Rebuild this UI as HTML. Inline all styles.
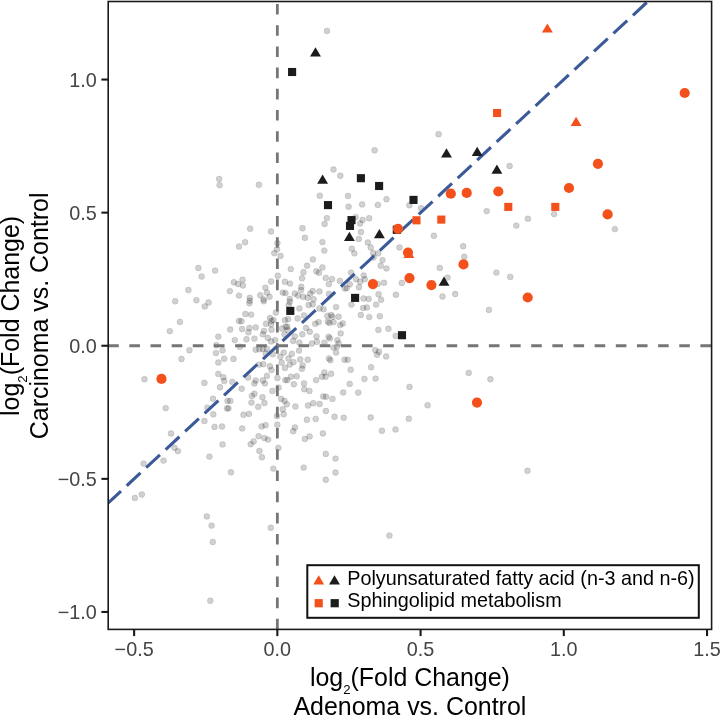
<!DOCTYPE html><html><head><meta charset="utf-8"><title>Fold change scatter</title><style>html,body{margin:0;padding:0;background:#fff}svg{display:block;will-change:transform}text{font-family:"Liberation Sans",sans-serif}</style></head><body>
<svg width="720" height="718" viewBox="0 0 720 718">
<rect width="720" height="718" fill="#fff"/>
<defs><clipPath id="cp"><rect x="108.2" y="1.5" width="603.4" height="627.9"/></clipPath></defs>
<g clip-path="url(#cp)">
<g fill="#000" fill-opacity="0.18" stroke="#000" stroke-opacity="0.12" stroke-width="0.9">
<circle cx="327.0" cy="30.9" r="2.95"/>
<circle cx="219.1" cy="178.9" r="2.95"/>
<circle cx="219.6" cy="185.1" r="2.95"/>
<circle cx="198.4" cy="268.0" r="2.95"/>
<circle cx="215.1" cy="270.6" r="2.95"/>
<circle cx="201.6" cy="276.5" r="2.95"/>
<circle cx="333.5" cy="169.5" r="2.95"/>
<circle cx="340.3" cy="175.7" r="2.95"/>
<circle cx="258.9" cy="184.8" r="2.95"/>
<circle cx="319.8" cy="195.7" r="2.95"/>
<circle cx="326.9" cy="218.1" r="2.95"/>
<circle cx="324.6" cy="224.0" r="2.95"/>
<circle cx="302.5" cy="228.3" r="2.95"/>
<circle cx="250.1" cy="228.8" r="2.95"/>
<circle cx="271.0" cy="231.5" r="2.95"/>
<circle cx="304.9" cy="237.8" r="2.95"/>
<circle cx="438.6" cy="134.2" r="2.95"/>
<circle cx="374.6" cy="150.3" r="2.95"/>
<circle cx="409.4" cy="205.2" r="2.95"/>
<circle cx="421.1" cy="208.1" r="2.95"/>
<circle cx="433.9" cy="235.7" r="2.95"/>
<circle cx="348.0" cy="195.9" r="2.95"/>
<circle cx="386.5" cy="199.2" r="2.95"/>
<circle cx="362.1" cy="204.4" r="2.95"/>
<circle cx="377.9" cy="204.9" r="2.95"/>
<circle cx="348.6" cy="206.7" r="2.95"/>
<circle cx="369.2" cy="218.3" r="2.95"/>
<circle cx="362.6" cy="219.9" r="2.95"/>
<circle cx="360.1" cy="223.5" r="2.95"/>
<circle cx="360.9" cy="232.0" r="2.95"/>
<circle cx="358.8" cy="238.9" r="2.95"/>
<circle cx="355.5" cy="217.2" r="2.95"/>
<circle cx="509.6" cy="166.0" r="2.95"/>
<circle cx="486.7" cy="211.1" r="2.95"/>
<circle cx="527.9" cy="218.8" r="2.95"/>
<circle cx="516.3" cy="225.6" r="2.95"/>
<circle cx="554.1" cy="214.1" r="2.95"/>
<circle cx="614.9" cy="229.1" r="2.95"/>
<circle cx="188.4" cy="290.0" r="2.95"/>
<circle cx="175.2" cy="301.3" r="2.95"/>
<circle cx="196.4" cy="300.3" r="2.95"/>
<circle cx="208.6" cy="302.5" r="2.95"/>
<circle cx="204.8" cy="306.4" r="2.95"/>
<circle cx="179.9" cy="321.9" r="2.95"/>
<circle cx="169.8" cy="331.1" r="2.95"/>
<circle cx="218.3" cy="336.6" r="2.95"/>
<circle cx="216.3" cy="345.3" r="2.95"/>
<circle cx="189.4" cy="350.3" r="2.95"/>
<circle cx="222.5" cy="350.3" r="2.95"/>
<circle cx="216.0" cy="353.1" r="2.95"/>
<circle cx="181.5" cy="359.0" r="2.95"/>
<circle cx="224.2" cy="358.7" r="2.95"/>
<circle cx="245.1" cy="242.3" r="2.95"/>
<circle cx="239.0" cy="246.5" r="2.95"/>
<circle cx="277.4" cy="243.2" r="2.95"/>
<circle cx="277.0" cy="249.2" r="2.95"/>
<circle cx="274.3" cy="253.2" r="2.95"/>
<circle cx="280.5" cy="255.9" r="2.95"/>
<circle cx="277.8" cy="275.7" r="2.95"/>
<circle cx="242.5" cy="279.7" r="2.95"/>
<circle cx="233.9" cy="282.2" r="2.95"/>
<circle cx="238.1" cy="284.0" r="2.95"/>
<circle cx="243.0" cy="285.5" r="2.95"/>
<circle cx="271.1" cy="281.5" r="2.95"/>
<circle cx="284.9" cy="281.8" r="2.95"/>
<circle cx="229.8" cy="291.1" r="2.95"/>
<circle cx="265.4" cy="287.6" r="2.95"/>
<circle cx="266.9" cy="292.6" r="2.95"/>
<circle cx="239.0" cy="295.6" r="2.95"/>
<circle cx="260.3" cy="295.3" r="2.95"/>
<circle cx="249.8" cy="297.7" r="2.95"/>
<circle cx="269.5" cy="296.8" r="2.95"/>
<circle cx="282.8" cy="292.6" r="2.95"/>
<circle cx="285.5" cy="293.1" r="2.95"/>
<circle cx="263.6" cy="299.5" r="2.95"/>
<circle cx="322.4" cy="242.1" r="2.95"/>
<circle cx="324.3" cy="250.6" r="2.95"/>
<circle cx="312.9" cy="259.4" r="2.95"/>
<circle cx="307.1" cy="265.7" r="2.95"/>
<circle cx="290.8" cy="269.1" r="2.95"/>
<circle cx="322.4" cy="267.4" r="2.95"/>
<circle cx="316.3" cy="271.3" r="2.95"/>
<circle cx="319.0" cy="272.8" r="2.95"/>
<circle cx="303.5" cy="272.2" r="2.95"/>
<circle cx="302.0" cy="278.3" r="2.95"/>
<circle cx="325.7" cy="277.9" r="2.95"/>
<circle cx="332.0" cy="279.1" r="2.95"/>
<circle cx="339.9" cy="280.9" r="2.95"/>
<circle cx="328.9" cy="284.1" r="2.95"/>
<circle cx="290.0" cy="283.6" r="2.95"/>
<circle cx="301.3" cy="286.8" r="2.95"/>
<circle cx="301.0" cy="290.1" r="2.95"/>
<circle cx="294.8" cy="293.5" r="2.95"/>
<circle cx="298.1" cy="295.6" r="2.95"/>
<circle cx="312.7" cy="291.0" r="2.95"/>
<circle cx="319.4" cy="291.4" r="2.95"/>
<circle cx="303.1" cy="296.8" r="2.95"/>
<circle cx="307.7" cy="297.7" r="2.95"/>
<circle cx="329.0" cy="293.9" r="2.95"/>
<circle cx="344.9" cy="288.5" r="2.95"/>
<circle cx="289.8" cy="298.9" r="2.95"/>
<circle cx="313.6" cy="299.3" r="2.95"/>
<circle cx="310.2" cy="293.5" r="2.95"/>
<circle cx="367.9" cy="242.5" r="2.95"/>
<circle cx="351.8" cy="248.8" r="2.95"/>
<circle cx="354.4" cy="253.4" r="2.95"/>
<circle cx="370.7" cy="247.5" r="2.95"/>
<circle cx="373.2" cy="253.0" r="2.95"/>
<circle cx="378.2" cy="253.4" r="2.95"/>
<circle cx="373.6" cy="257.5" r="2.95"/>
<circle cx="382.5" cy="260.1" r="2.95"/>
<circle cx="399.5" cy="247.4" r="2.95"/>
<circle cx="380.7" cy="265.7" r="2.95"/>
<circle cx="386.5" cy="268.4" r="2.95"/>
<circle cx="351.0" cy="272.6" r="2.95"/>
<circle cx="363.7" cy="275.5" r="2.95"/>
<circle cx="364.8" cy="279.3" r="2.95"/>
<circle cx="356.0" cy="279.3" r="2.95"/>
<circle cx="360.2" cy="281.8" r="2.95"/>
<circle cx="349.8" cy="284.3" r="2.95"/>
<circle cx="346.8" cy="288.1" r="2.95"/>
<circle cx="359.0" cy="287.2" r="2.95"/>
<circle cx="384.0" cy="282.8" r="2.95"/>
<circle cx="377.8" cy="283.9" r="2.95"/>
<circle cx="401.8" cy="283.0" r="2.95"/>
<circle cx="378.6" cy="294.3" r="2.95"/>
<circle cx="395.9" cy="294.7" r="2.95"/>
<circle cx="363.5" cy="298.5" r="2.95"/>
<circle cx="368.6" cy="298.9" r="2.95"/>
<circle cx="381.1" cy="299.7" r="2.95"/>
<circle cx="463.2" cy="246.2" r="2.95"/>
<circle cx="464.3" cy="256.7" r="2.95"/>
<circle cx="439.8" cy="267.9" r="2.95"/>
<circle cx="447.6" cy="277.6" r="2.95"/>
<circle cx="496.4" cy="272.6" r="2.95"/>
<circle cx="510.3" cy="276.9" r="2.95"/>
<circle cx="455.2" cy="294.0" r="2.95"/>
<circle cx="442.5" cy="296.5" r="2.95"/>
<circle cx="488.9" cy="309.9" r="2.95"/>
<circle cx="249.8" cy="300.8" r="2.95"/>
<circle cx="249.4" cy="303.2" r="2.95"/>
<circle cx="263.8" cy="301.3" r="2.95"/>
<circle cx="245.4" cy="314.0" r="2.95"/>
<circle cx="251.1" cy="314.6" r="2.95"/>
<circle cx="239.0" cy="320.9" r="2.95"/>
<circle cx="241.5" cy="321.3" r="2.95"/>
<circle cx="275.9" cy="312.5" r="2.95"/>
<circle cx="270.0" cy="318.0" r="2.95"/>
<circle cx="271.5" cy="320.9" r="2.95"/>
<circle cx="273.6" cy="320.1" r="2.95"/>
<circle cx="266.1" cy="323.8" r="2.95"/>
<circle cx="271.1" cy="324.2" r="2.95"/>
<circle cx="230.2" cy="329.5" r="2.95"/>
<circle cx="242.1" cy="329.0" r="2.95"/>
<circle cx="249.4" cy="328.0" r="2.95"/>
<circle cx="255.7" cy="327.4" r="2.95"/>
<circle cx="248.4" cy="332.2" r="2.95"/>
<circle cx="264.0" cy="330.9" r="2.95"/>
<circle cx="262.8" cy="334.3" r="2.95"/>
<circle cx="271.5" cy="329.7" r="2.95"/>
<circle cx="246.5" cy="339.3" r="2.95"/>
<circle cx="254.4" cy="338.6" r="2.95"/>
<circle cx="234.8" cy="340.1" r="2.95"/>
<circle cx="267.8" cy="338.0" r="2.95"/>
<circle cx="271.1" cy="341.4" r="2.95"/>
<circle cx="275.3" cy="340.1" r="2.95"/>
<circle cx="239.8" cy="346.8" r="2.95"/>
<circle cx="255.7" cy="349.7" r="2.95"/>
<circle cx="259.4" cy="349.3" r="2.95"/>
<circle cx="262.8" cy="348.9" r="2.95"/>
<circle cx="266.9" cy="348.9" r="2.95"/>
<circle cx="265.7" cy="353.5" r="2.95"/>
<circle cx="272.8" cy="354.3" r="2.95"/>
<circle cx="233.5" cy="358.9" r="2.95"/>
<circle cx="280.3" cy="356.8" r="2.95"/>
<circle cx="283.7" cy="352.6" r="2.95"/>
<circle cx="284.9" cy="320.1" r="2.95"/>
<circle cx="282.0" cy="328.4" r="2.95"/>
<circle cx="285.7" cy="326.7" r="2.95"/>
<circle cx="284.5" cy="334.3" r="2.95"/>
<circle cx="289.8" cy="301.7" r="2.95"/>
<circle cx="299.4" cy="308.4" r="2.95"/>
<circle cx="308.6" cy="305.0" r="2.95"/>
<circle cx="312.7" cy="304.2" r="2.95"/>
<circle cx="304.0" cy="315.5" r="2.95"/>
<circle cx="297.7" cy="318.4" r="2.95"/>
<circle cx="288.1" cy="319.2" r="2.95"/>
<circle cx="323.6" cy="309.2" r="2.95"/>
<circle cx="319.4" cy="308.4" r="2.95"/>
<circle cx="336.1" cy="307.1" r="2.95"/>
<circle cx="331.1" cy="315.0" r="2.95"/>
<circle cx="332.4" cy="316.7" r="2.95"/>
<circle cx="327.4" cy="315.9" r="2.95"/>
<circle cx="338.6" cy="316.7" r="2.95"/>
<circle cx="315.2" cy="323.8" r="2.95"/>
<circle cx="318.6" cy="322.1" r="2.95"/>
<circle cx="327.8" cy="321.7" r="2.95"/>
<circle cx="329.5" cy="323.0" r="2.95"/>
<circle cx="333.6" cy="322.1" r="2.95"/>
<circle cx="340.3" cy="325.1" r="2.95"/>
<circle cx="342.8" cy="323.4" r="2.95"/>
<circle cx="287.3" cy="326.7" r="2.95"/>
<circle cx="287.7" cy="330.1" r="2.95"/>
<circle cx="306.1" cy="328.0" r="2.95"/>
<circle cx="309.8" cy="331.8" r="2.95"/>
<circle cx="302.3" cy="334.3" r="2.95"/>
<circle cx="294.8" cy="336.4" r="2.95"/>
<circle cx="316.5" cy="336.4" r="2.95"/>
<circle cx="328.6" cy="336.8" r="2.95"/>
<circle cx="340.7" cy="333.4" r="2.95"/>
<circle cx="293.1" cy="340.9" r="2.95"/>
<circle cx="299.4" cy="342.6" r="2.95"/>
<circle cx="311.9" cy="343.5" r="2.95"/>
<circle cx="316.9" cy="341.8" r="2.95"/>
<circle cx="324.4" cy="342.6" r="2.95"/>
<circle cx="337.4" cy="340.1" r="2.95"/>
<circle cx="338.6" cy="343.5" r="2.95"/>
<circle cx="333.6" cy="347.6" r="2.95"/>
<circle cx="337.0" cy="346.8" r="2.95"/>
<circle cx="299.0" cy="350.6" r="2.95"/>
<circle cx="291.8" cy="353.9" r="2.95"/>
<circle cx="336.1" cy="352.6" r="2.95"/>
<circle cx="329.0" cy="358.5" r="2.95"/>
<circle cx="288.5" cy="358.5" r="2.95"/>
<circle cx="300.2" cy="359.5" r="2.95"/>
<circle cx="307.7" cy="359.7" r="2.95"/>
<circle cx="344.5" cy="359.7" r="2.95"/>
<circle cx="351.4" cy="304.6" r="2.95"/>
<circle cx="363.1" cy="307.9" r="2.95"/>
<circle cx="366.9" cy="307.5" r="2.95"/>
<circle cx="376.1" cy="304.6" r="2.95"/>
<circle cx="360.9" cy="315.0" r="2.95"/>
<circle cx="369.2" cy="317.1" r="2.95"/>
<circle cx="379.8" cy="316.3" r="2.95"/>
<circle cx="378.4" cy="329.9" r="2.95"/>
<circle cx="388.4" cy="328.8" r="2.95"/>
<circle cx="395.7" cy="335.9" r="2.95"/>
<circle cx="375.2" cy="350.1" r="2.95"/>
<circle cx="379.0" cy="351.8" r="2.95"/>
<circle cx="377.1" cy="354.7" r="2.95"/>
<circle cx="386.1" cy="356.4" r="2.95"/>
<circle cx="347.7" cy="359.7" r="2.95"/>
<circle cx="144.4" cy="379.2" r="2.95"/>
<circle cx="218.3" cy="362.5" r="2.95"/>
<circle cx="218.3" cy="373.9" r="2.95"/>
<circle cx="223.3" cy="377.2" r="2.95"/>
<circle cx="224.2" cy="380.9" r="2.95"/>
<circle cx="204.4" cy="382.9" r="2.95"/>
<circle cx="220.0" cy="387.2" r="2.95"/>
<circle cx="165.7" cy="408.1" r="2.95"/>
<circle cx="213.0" cy="398.8" r="2.95"/>
<circle cx="207.4" cy="407.6" r="2.95"/>
<circle cx="213.3" cy="414.3" r="2.95"/>
<circle cx="204.4" cy="421.0" r="2.95"/>
<circle cx="214.5" cy="426.9" r="2.95"/>
<circle cx="222.0" cy="426.5" r="2.95"/>
<circle cx="227.0" cy="408.5" r="2.95"/>
<circle cx="171.0" cy="433.5" r="2.95"/>
<circle cx="222.5" cy="444.4" r="2.95"/>
<circle cx="174.5" cy="447.7" r="2.95"/>
<circle cx="177.9" cy="451.1" r="2.95"/>
<circle cx="209.4" cy="456.6" r="2.95"/>
<circle cx="163.5" cy="460.6" r="2.95"/>
<circle cx="143.6" cy="463.6" r="2.95"/>
<circle cx="227.5" cy="400.9" r="2.95"/>
<circle cx="263.2" cy="364.2" r="2.95"/>
<circle cx="259.0" cy="364.6" r="2.95"/>
<circle cx="269.9" cy="366.3" r="2.95"/>
<circle cx="271.5" cy="370.0" r="2.95"/>
<circle cx="281.6" cy="362.5" r="2.95"/>
<circle cx="266.9" cy="375.9" r="2.95"/>
<circle cx="277.4" cy="378.0" r="2.95"/>
<circle cx="284.9" cy="367.9" r="2.95"/>
<circle cx="285.3" cy="380.1" r="2.95"/>
<circle cx="248.1" cy="377.5" r="2.95"/>
<circle cx="232.3" cy="381.9" r="2.95"/>
<circle cx="255.7" cy="380.5" r="2.95"/>
<circle cx="254.4" cy="383.4" r="2.95"/>
<circle cx="262.8" cy="380.5" r="2.95"/>
<circle cx="264.9" cy="383.4" r="2.95"/>
<circle cx="241.7" cy="388.8" r="2.95"/>
<circle cx="272.4" cy="390.9" r="2.95"/>
<circle cx="278.6" cy="387.6" r="2.95"/>
<circle cx="254.4" cy="393.8" r="2.95"/>
<circle cx="251.9" cy="395.9" r="2.95"/>
<circle cx="262.4" cy="397.2" r="2.95"/>
<circle cx="281.2" cy="398.9" r="2.95"/>
<circle cx="284.5" cy="400.9" r="2.95"/>
<circle cx="230.3" cy="400.9" r="2.95"/>
<circle cx="251.5" cy="402.6" r="2.95"/>
<circle cx="264.4" cy="403.0" r="2.95"/>
<circle cx="258.2" cy="406.8" r="2.95"/>
<circle cx="228.5" cy="408.3" r="2.95"/>
<circle cx="282.8" cy="409.3" r="2.95"/>
<circle cx="243.5" cy="414.7" r="2.95"/>
<circle cx="249.0" cy="413.9" r="2.95"/>
<circle cx="277.0" cy="416.0" r="2.95"/>
<circle cx="283.7" cy="414.3" r="2.95"/>
<circle cx="289.8" cy="364.6" r="2.95"/>
<circle cx="293.5" cy="362.1" r="2.95"/>
<circle cx="301.9" cy="368.8" r="2.95"/>
<circle cx="302.7" cy="365.4" r="2.95"/>
<circle cx="291.0" cy="376.7" r="2.95"/>
<circle cx="296.7" cy="376.3" r="2.95"/>
<circle cx="287.3" cy="380.1" r="2.95"/>
<circle cx="293.9" cy="384.2" r="2.95"/>
<circle cx="304.0" cy="383.4" r="2.95"/>
<circle cx="304.2" cy="389.2" r="2.95"/>
<circle cx="309.4" cy="390.9" r="2.95"/>
<circle cx="316.1" cy="380.1" r="2.95"/>
<circle cx="321.9" cy="376.7" r="2.95"/>
<circle cx="324.4" cy="372.5" r="2.95"/>
<circle cx="325.7" cy="376.7" r="2.95"/>
<circle cx="331.1" cy="373.8" r="2.95"/>
<circle cx="343.2" cy="392.4" r="2.95"/>
<circle cx="323.2" cy="396.4" r="2.95"/>
<circle cx="326.1" cy="396.8" r="2.95"/>
<circle cx="332.5" cy="398.9" r="2.95"/>
<circle cx="286.8" cy="404.3" r="2.95"/>
<circle cx="295.4" cy="406.4" r="2.95"/>
<circle cx="308.1" cy="405.5" r="2.95"/>
<circle cx="313.2" cy="403.3" r="2.95"/>
<circle cx="319.6" cy="404.0" r="2.95"/>
<circle cx="325.9" cy="411.0" r="2.95"/>
<circle cx="334.5" cy="416.8" r="2.95"/>
<circle cx="343.7" cy="417.7" r="2.95"/>
<circle cx="315.7" cy="418.9" r="2.95"/>
<circle cx="306.9" cy="419.7" r="2.95"/>
<circle cx="350.7" cy="369.7" r="2.95"/>
<circle cx="371.1" cy="367.2" r="2.95"/>
<circle cx="364.4" cy="378.9" r="2.95"/>
<circle cx="375.6" cy="378.6" r="2.95"/>
<circle cx="349.7" cy="383.9" r="2.95"/>
<circle cx="358.2" cy="392.6" r="2.95"/>
<circle cx="409.5" cy="386.9" r="2.95"/>
<circle cx="427.6" cy="405.3" r="2.95"/>
<circle cx="370.7" cy="417.5" r="2.95"/>
<circle cx="408.8" cy="418.7" r="2.95"/>
<circle cx="381.9" cy="430.7" r="2.95"/>
<circle cx="395.5" cy="429.4" r="2.95"/>
<circle cx="468.7" cy="372.9" r="2.95"/>
<circle cx="490.4" cy="379.2" r="2.95"/>
<circle cx="527.5" cy="470.8" r="2.95"/>
<circle cx="242.2" cy="428.4" r="2.95"/>
<circle cx="261.6" cy="426.4" r="2.95"/>
<circle cx="265.6" cy="425.2" r="2.95"/>
<circle cx="277.3" cy="424.7" r="2.95"/>
<circle cx="294.9" cy="427.5" r="2.95"/>
<circle cx="293.2" cy="431.2" r="2.95"/>
<circle cx="322.9" cy="433.4" r="2.95"/>
<circle cx="258.6" cy="436.2" r="2.95"/>
<circle cx="264.4" cy="438.1" r="2.95"/>
<circle cx="268.1" cy="439.6" r="2.95"/>
<circle cx="253.6" cy="441.4" r="2.95"/>
<circle cx="250.7" cy="444.2" r="2.95"/>
<circle cx="304.9" cy="438.9" r="2.95"/>
<circle cx="309.6" cy="436.4" r="2.95"/>
<circle cx="278.3" cy="447.9" r="2.95"/>
<circle cx="259.4" cy="450.9" r="2.95"/>
<circle cx="261.9" cy="457.3" r="2.95"/>
<circle cx="325.8" cy="453.9" r="2.95"/>
<circle cx="335.5" cy="458.6" r="2.95"/>
<circle cx="273.3" cy="468.6" r="2.95"/>
<circle cx="303.7" cy="467.6" r="2.95"/>
<circle cx="231.0" cy="472.3" r="2.95"/>
<circle cx="335.5" cy="472.5" r="2.95"/>
<circle cx="325.8" cy="479.8" r="2.95"/>
<circle cx="270.8" cy="527.8" r="2.95"/>
<circle cx="134.9" cy="497.9" r="2.95"/>
<circle cx="141.8" cy="494.5" r="2.95"/>
<circle cx="206.8" cy="516.4" r="2.95"/>
<circle cx="211.6" cy="525.6" r="2.95"/>
<circle cx="212.8" cy="542.0" r="2.95"/>
<circle cx="210.3" cy="600.7" r="2.95"/>
<circle cx="389.4" cy="535.6" r="2.95"/>
<circle cx="288.7" cy="305.2" r="2.95"/>
<circle cx="330.4" cy="360.2" r="2.95"/>
<circle cx="329.9" cy="338.4" r="2.95"/>
</g>
<line x1="108.2" y1="345.75" x2="711.6" y2="345.75" stroke="#767676" stroke-width="2.8" stroke-dasharray="10.6 10.55"/>
<line x1="277.35" y1="629.4" x2="277.35" y2="1.5" stroke="#767676" stroke-width="2.8" stroke-dasharray="10.6 10.6"/>
<line x1="107.23" y1="503.84" x2="651.70" y2="-2.14" stroke="#3C5A99" stroke-width="3.1" stroke-dasharray="18.8 7.78"/>
<rect x="288.05" y="67.95" width="8.1" height="8.1" fill="#1c1c1c"/>
<rect x="323.95" y="201.05" width="8.1" height="8.1" fill="#1c1c1c"/>
<rect x="356.85" y="174.15" width="8.1" height="8.1" fill="#1c1c1c"/>
<rect x="375.05" y="181.95" width="8.1" height="8.1" fill="#1c1c1c"/>
<rect x="409.45" y="195.85" width="8.1" height="8.1" fill="#1c1c1c"/>
<rect x="347.45" y="216.05" width="8.1" height="8.1" fill="#1c1c1c"/>
<rect x="345.95" y="221.85" width="8.1" height="8.1" fill="#1c1c1c"/>
<rect x="392.75" y="225.75" width="8.1" height="8.1" fill="#1c1c1c"/>
<rect x="351.05" y="293.85" width="8.1" height="8.1" fill="#1c1c1c"/>
<rect x="286.25" y="306.85" width="8.1" height="8.1" fill="#1c1c1c"/>
<rect x="397.95" y="331.15" width="8.1" height="8.1" fill="#1c1c1c"/>
<path d="M315.50 47.30L320.95 56.50L310.05 56.50Z" fill="#1c1c1c"/>
<path d="M322.60 174.50L328.05 183.70L317.15 183.70Z" fill="#1c1c1c"/>
<path d="M349.40 231.80L354.85 241.00L343.95 241.00Z" fill="#1c1c1c"/>
<path d="M379.40 229.00L384.85 238.20L373.95 238.20Z" fill="#1c1c1c"/>
<path d="M446.50 148.20L451.95 157.40L441.05 157.40Z" fill="#1c1c1c"/>
<path d="M477.20 146.70L482.65 155.90L471.75 155.90Z" fill="#1c1c1c"/>
<path d="M496.90 164.60L502.35 173.80L491.45 173.80Z" fill="#1c1c1c"/>
<path d="M444.00 276.50L449.45 285.70L438.55 285.70Z" fill="#1c1c1c"/>
<rect x="493.05" y="108.95" width="8.1" height="8.1" fill="#F4501C"/>
<rect x="504.25" y="202.85" width="8.1" height="8.1" fill="#F4501C"/>
<rect x="551.25" y="202.85" width="8.1" height="8.1" fill="#F4501C"/>
<rect x="412.45" y="216.25" width="8.1" height="8.1" fill="#F4501C"/>
<rect x="437.25" y="215.55" width="8.1" height="8.1" fill="#F4501C"/>
<path d="M547.40 23.40L552.85 32.60L541.95 32.60Z" fill="#F4501C"/>
<path d="M576.10 116.80L581.55 126.00L570.65 126.00Z" fill="#F4501C"/>
<path d="M408.90 248.90L414.35 258.10L403.45 258.10Z" fill="#F4501C"/>
<circle cx="684.70" cy="93.00" r="5.1" fill="#F4501C"/>
<circle cx="597.90" cy="163.80" r="5.1" fill="#F4501C"/>
<circle cx="607.60" cy="214.40" r="5.1" fill="#F4501C"/>
<circle cx="569.00" cy="188.00" r="5.1" fill="#F4501C"/>
<circle cx="466.70" cy="192.90" r="5.1" fill="#F4501C"/>
<circle cx="498.30" cy="191.50" r="5.1" fill="#F4501C"/>
<circle cx="450.80" cy="193.70" r="5.1" fill="#F4501C"/>
<circle cx="398.00" cy="228.80" r="5.1" fill="#F4501C"/>
<circle cx="408.00" cy="252.50" r="5.1" fill="#F4501C"/>
<circle cx="409.50" cy="278.10" r="5.1" fill="#F4501C"/>
<circle cx="431.40" cy="285.10" r="5.1" fill="#F4501C"/>
<circle cx="463.50" cy="264.40" r="5.1" fill="#F4501C"/>
<circle cx="372.90" cy="284.10" r="5.1" fill="#F4501C"/>
<circle cx="527.70" cy="297.50" r="5.1" fill="#F4501C"/>
<circle cx="477.00" cy="402.60" r="5.1" fill="#F4501C"/>
<circle cx="161.50" cy="378.90" r="5.1" fill="#F4501C"/>
</g>
<rect x="108.2" y="1.5" width="603.4" height="627.9" fill="none" stroke="#1a1a1a" stroke-width="1.6"/>
<line x1="134.13" y1="629.4" x2="134.13" y2="636.1" stroke="#1a1a1a" stroke-width="2.1"/>
<text x="134.13" y="656.2" font-size="19.8" fill="#444" text-anchor="middle">−0.5</text>
<line x1="277.35" y1="629.4" x2="277.35" y2="636.1" stroke="#1a1a1a" stroke-width="2.1"/>
<text x="277.35" y="656.2" font-size="19.8" fill="#444" text-anchor="middle">0.0</text>
<line x1="420.58" y1="629.4" x2="420.58" y2="636.1" stroke="#1a1a1a" stroke-width="2.1"/>
<text x="420.58" y="656.2" font-size="19.8" fill="#444" text-anchor="middle">0.5</text>
<line x1="563.80" y1="629.4" x2="563.80" y2="636.1" stroke="#1a1a1a" stroke-width="2.1"/>
<text x="563.80" y="656.2" font-size="19.8" fill="#444" text-anchor="middle">1.0</text>
<line x1="707.02" y1="629.4" x2="707.02" y2="636.1" stroke="#1a1a1a" stroke-width="2.1"/>
<text x="707.02" y="656.2" font-size="19.8" fill="#444" text-anchor="middle">1.5</text>
<line x1="101.4" y1="611.95" x2="108.2" y2="611.95" stroke="#1a1a1a" stroke-width="2.1"/>
<text x="96.8" y="619.05" font-size="19.8" fill="#444" text-anchor="end">−1.0</text>
<line x1="101.4" y1="478.85" x2="108.2" y2="478.85" stroke="#1a1a1a" stroke-width="2.1"/>
<text x="96.8" y="485.95" font-size="19.8" fill="#444" text-anchor="end">−0.5</text>
<line x1="101.4" y1="345.75" x2="108.2" y2="345.75" stroke="#1a1a1a" stroke-width="2.1"/>
<text x="96.8" y="352.85" font-size="19.8" fill="#444" text-anchor="end">0.0</text>
<line x1="101.4" y1="212.65" x2="108.2" y2="212.65" stroke="#1a1a1a" stroke-width="2.1"/>
<text x="96.8" y="219.75" font-size="19.8" fill="#444" text-anchor="end">0.5</text>
<line x1="101.4" y1="79.55" x2="108.2" y2="79.55" stroke="#1a1a1a" stroke-width="2.1"/>
<text x="96.8" y="86.65" font-size="19.8" fill="#444" text-anchor="end">1.0</text>
<text x="409.9" y="686" font-size="24.95" fill="#000" text-anchor="middle">log<tspan font-size="13.2" dy="8.3">2</tspan><tspan dy="-8.3">(Fold Change)</tspan></text>
<text x="409.9" y="715" font-size="24.95" fill="#000" text-anchor="middle">Adenoma vs. Control</text>
<g transform="translate(0,315.9) rotate(-90)"><text x="0" y="18.9" font-size="24.95" fill="#000" text-anchor="middle">log<tspan font-size="13.2" dy="8.3">2</tspan><tspan dy="-8.3">(Fold Change)</tspan></text><text x="0" y="47.8" font-size="24.95" fill="#000" text-anchor="middle">Carcinoma vs. Control</text></g>
<rect x="307.3" y="565.2" width="391.5" height="52.6" fill="#fff" stroke="#111" stroke-width="2"/>
<path d="M318.70 575.30L324.15 584.50L313.25 584.50Z" fill="#F4501C"/>
<path d="M334.50 575.30L339.95 584.50L329.05 584.50Z" fill="#1c1c1c"/>
<rect x="314.60" y="599.10" width="8.2" height="8.2" fill="#F4501C"/>
<rect x="330.60" y="599.10" width="8.2" height="8.2" fill="#1c1c1c"/>
<text x="347.2" y="584.7" font-size="19.8" fill="#000">Polyunsaturated fatty acid (n-3 and n-6)</text>
<text x="347.2" y="607" font-size="19.8" fill="#000">Sphingolipid metabolism</text>
</svg></body></html>
